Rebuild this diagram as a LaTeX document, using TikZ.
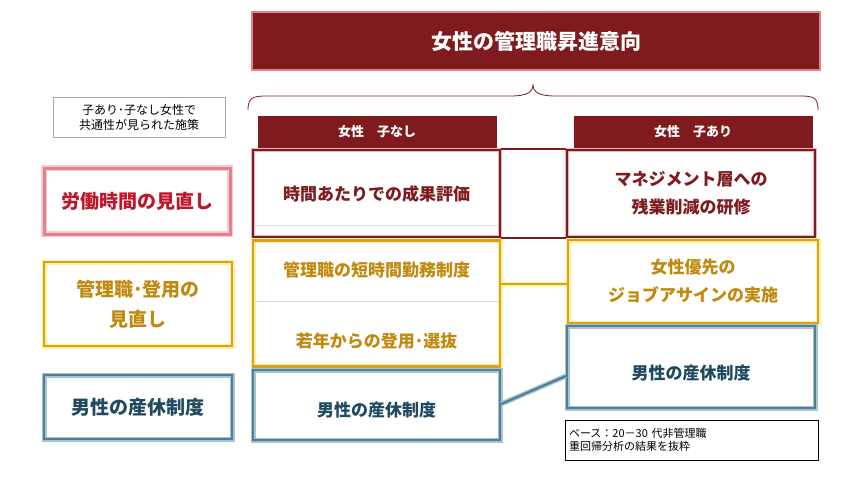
\documentclass[tikz,border=0pt]{standalone}
\usepackage{fontspec}
\setmainfont{Noto Sans CJK JP}
\usetikzlibrary{positioning}
\definecolor{wine}{HTML}{7F1A1E}
\definecolor{rosy}{HTML}{E5808A}
\definecolor{crimson}{HTML}{C0142B}
\definecolor{gold}{HTML}{D9A21A}
\definecolor{goldtext}{HTML}{C08A10}
\definecolor{paleyel}{HTML}{FFF1A0}
\definecolor{teal}{HTML}{4E7F96}
\definecolor{tealtext}{HTML}{1F4A60}
\definecolor{paleteal}{HTML}{A9C4D0}
\begin{document}
\begin{tikzpicture}[x=1pt,y=-1pt]
    \tikzstyle{box} = [shape=rectangle, inner sep=0pt, align=center, font=\bfseries];
    \tikzstyle{redbox} = [box, draw=wine, line width=1.6pt, preaction={draw=rosy!60, line width=4pt}];
    \tikzstyle{goldbox} = [box, draw=gold, line width=2.2pt, preaction={draw=paleyel, line width=5pt}];
    \tikzstyle{tealbox} = [box, draw=teal, line width=2.2pt, preaction={draw=paleteal, line width=5pt}];
    \tikzstyle{pinkbox} = [box, draw=rosy, line width=3pt, preaction={draw=rosy!40, line width=6pt}];
    \tikzstyle{head} = [box, fill=wine, text=white, minimum width=239pt, minimum height=32pt, font=\bfseries\fontsize{13}{15}\selectfont];
    \tikzstyle{cell} = [font=\bfseries\fontsize{17}{28}\selectfont, align=center];
    \tikzstyle{divider} = [draw=black!15, line width=1pt];
    \useasboundingbox (0,0) rectangle (865,480);

    % Nodes
    \node [box, fill=wine, draw=rosy, line width=2pt, text=white, minimum width=568pt, minimum height=58pt,
           font=\bfseries\fontsize{21}{24}\selectfont] (title) at (536,41) {女性の管理職昇進意向};
    \node [box, draw=black!35, line width=0.6pt, minimum width=172pt, minimum height=40pt,
           font=\fontsize{12}{15}\selectfont] (note) at (139,117) {子あり･子なし女性で\\共通性が見られた施策};

    \node [pinkbox, text=crimson, minimum width=186pt, minimum height=66pt, font=\bfseries\fontsize{19}{22}\selectfont] (work) at (137,201) {労働時間の見直し};
    \node [goldbox, text=goldtext, minimum width=188pt, minimum height=84pt, font=\bfseries\fontsize{19}{30}\selectfont] (mgmt) at (138,304) {管理職･登用の\\見直し};
    \node [tealbox, text=tealtext, minimum width=188pt, minimum height=64pt, font=\bfseries\fontsize{19}{22}\selectfont] (leave) at (138,407) {男性の産休制度};

    \node [head] (nochild) at (377,132) {女性\quad 子なし};
    \node [head] (child) at (693,132) {女性\quad 子あり};

    \node [redbox, minimum width=247pt, minimum height=87pt] (nored) at (376.5,193.5) {};
    \node [goldbox, minimum width=247pt, minimum height=126pt] (nogold) at (376.5,303.5) {};
    \node [tealbox, minimum width=247pt, minimum height=70pt] (noteal) at (376.5,405) {};
    \node [redbox, minimum width=248pt, minimum height=87pt] (chred) at (691,193.5) {};
    \node [goldbox, minimum width=250pt, minimum height=83pt] (chgold) at (693,281.5) {};
    \node [tealbox, minimum width=248pt, minimum height=82pt] (chteal) at (691,367) {};

    \node [cell, text=wine] (evaluate) at (376.5,194) {時間あたりでの成果評価};
    \node [cell, text=goldtext] (shorttime) at (376.5,270) {管理職の短時間勤務制度};
    \node [cell, text=goldtext] (young) at (376.5,341) {若年からの登用･選抜};
    \node [cell, text=tealtext] (noleave) at (376.5,410) {男性の産休制度};
    \node [cell, text=wine] (overtime) at (691,193.5) {マネジメント層への\\残業削減の研修};
    \node [cell, text=goldtext] (assign) at (693,281.5) {女性優先の\\ジョブアサインの実施};
    \node [cell, text=tealtext] (chleave) at (691,373) {男性の産休制度};

    \node [box, draw=black, line width=0.6pt, minimum width=253pt, minimum height=40pt, align=left,
           text width=245pt, font=\fontsize{11}{13}\selectfont] (base) at (691.5,440) {ベース：20－30 代非管理職\\重回帰分析の結果を抜粋};

    % Paths
    \draw [divider] (254,225) -- (499,225);
    \draw [divider] (254,301) -- (499,301);
    \draw [wine, line width=1.6pt] (nored.north east) -- (chred.north west);
    \draw [wine, line width=1.6pt] (nored.south east) -- (chred.south west);
    \draw [gold, line width=2.2pt, preaction={draw=paleyel, line width=5pt}] (nogold.east |- 0,284) -- (chgold.west |- 0,284);
    \draw [teal, line width=2.2pt, preaction={draw=paleteal, line width=5pt}] (noteal.east |- 0,404) -- (chteal.west |- 0,376);
    \draw [wine, line width=0.8pt] (248,110) .. controls (248,95) and (255,96) .. (275,96)
        -- (510,96) .. controls (528,96) and (533,92) .. (533,84)
        .. controls (533,92) and (538,96) .. (556,96) -- (792,96)
        .. controls (812,96) and (818,95) .. (818,110);
\end{tikzpicture}
\end{document}
